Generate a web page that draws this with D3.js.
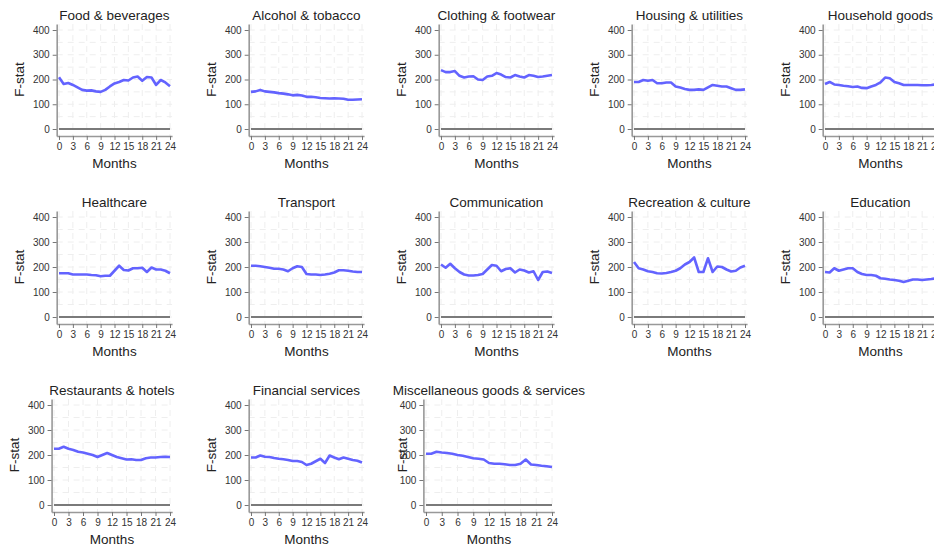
<!DOCTYPE html>
<html>
<head>
<meta charset="utf-8">
<script src="https://cdn.jsdelivr.net/npm/d3@7"></script>
<style>
  body { margin: 0; background: #fff; }
  text { font-family: "Liberation Sans", Arial, sans-serif; }
</style>
</head>
<body>
<div id="chart"></div>
<script>
///// DATA /////
var months = d3.range(0, 25);
var yTicks = [0, 100, 200, 300, 400];
var xTicks = [0, 3, 6, 9, 12, 15, 18, 21, 24];

var categories = [
  "Food & beverages", "Alcohol & tobacco", "Clothing & footwear", "Housing & utilities", "Household goods",
  "Healthcare", "Transport", "Communication", "Recreation & culture", "Education",
  "Restaurants & hotels", "Financial services", "Miscellaneous goods & services"
];

var food = [209, 182, 186, 178, 168, 158, 155, 156, 152, 150, 158, 172, 184, 190, 198, 196, 208, 212, 195, 210, 208, 178, 198, 188, 173];
var alcohol = [150, 152, 158, 152, 150, 148, 145, 143, 140, 136, 138, 135, 130, 130, 128, 125, 124, 123, 124, 123, 122, 118, 118, 119, 120];
var clothing = [238, 230, 230, 234, 215, 208, 212, 213, 200, 198, 212, 215, 226, 220, 210, 208, 218, 212, 208, 218, 215, 210, 212, 215, 218];
var housing = [190, 190, 198, 195, 198, 185, 185, 188, 188, 172, 168, 162, 158, 158, 160, 158, 168, 178, 175, 172, 172, 165, 158, 158, 160];
var household = [182, 190, 180, 178, 175, 173, 170, 172, 166, 165, 172, 178, 188, 208, 205, 190, 185, 178, 178, 178, 178, 177, 177, 178, 180];
var healthcare = [175, 175, 175, 170, 170, 170, 170, 168, 167, 163, 165, 165, 185, 205, 188, 186, 195, 195, 197, 180, 198, 190, 190, 185, 175];
var transport = [205, 205, 203, 200, 197, 193, 193, 190, 183, 195, 203, 200, 172, 170, 170, 168, 170, 173, 178, 187, 187, 185, 182, 180, 180];
var communication = [210, 197, 213, 195, 180, 170, 166, 166, 168, 172, 190, 208, 205, 183, 192, 195, 178, 190, 186, 178, 183, 148, 180, 182, 176];
var recreation = [220, 195, 190, 183, 180, 175, 174, 176, 180, 185, 195, 210, 220, 238, 180, 180, 235, 180, 202, 200, 190, 182, 185, 198, 205];
var education = [180, 178, 195, 185, 190, 195, 195, 180, 172, 168, 168, 165, 155, 153, 150, 148, 145, 140, 145, 150, 150, 148, 150, 152, 155];
var restaurants = [225, 225, 233, 225, 220, 213, 210, 205, 200, 192, 200, 208, 200, 192, 187, 182, 183, 180, 180, 187, 190, 190, 192, 193, 192];
var financial = [190, 190, 198, 193, 192, 188, 185, 183, 180, 176, 176, 172, 160, 165, 175, 185, 168, 198, 190, 183, 190, 185, 180, 177, 170];
var misc = [205, 205, 213, 210, 208, 205, 200, 197, 192, 187, 185, 182, 168, 165, 165, 163, 160, 160, 165, 182, 162, 160, 157, 155, 152];

var series = [food, alcohol, clothing, housing, household,
  healthcare, transport, communication, recreation, education,
  restaurants, financial, misc];

///// LAYOUT /////
var width = 934;
var height = 544;

var colStart = [59, 251, 441, 634, 825];   // x of month 0
var plotW = 111;                           // month 0 -> 24
var rowTop = [30, 217, 405];               // y of 400
var rowZero = [129, 317, 505];             // y of 0

var svg = d3.select("#chart").append("svg")
  .attr("width", width)
  .attr("height", height);

svg.append("rect")
  .attr("width", width)
  .attr("height", height)
  .attr("fill", "#fff");

var blue = "#5252ff";

series.forEach(function (vals, i) {
  var row = Math.floor(i / 5);
  var col = i % 5;
  var x0 = colStart[col];
  var x24 = x0 + plotW;
  var labelOff = 38;

  // odd panels in the last row
  if (i === 10) { x0 = 54; x24 = 170; }
  if (i === 12) { x0 = 426; x24 = 552; labelOff = 21; }

  var k = (x24 - x0) / 24;
  var x = d3.scaleLinear()
    .domain([-0.5, 24.45])
    .range([x0 - 0.5 * k, x24 + 0.45 * k]);

  var ky = (rowZero[row] - rowTop[row]) / 400;
  var y = d3.scaleLinear()
    .domain([-28, 424])
    .range([rowZero[row] + 28 * ky, rowTop[row] - 24 * ky]);

  var g = svg.append("g").attr("class", "panel");
  var axisX = x(-0.5);

  // faint grid
  g.selectAll(".vgrid")
    .data(xTicks)
    .enter().append("line")
    .attr("x1", function (d) { return x(d); })
    .attr("x2", function (d) { return x(d); })
    .attr("y1", y(424))
    .attr("y2", y(-28))
    .attr("stroke", "#eeeeee")
    .attr("stroke-width", 1)
    .attr("stroke-dasharray", "6,5");

  g.selectAll(".hgrid")
    .data(d3.range(0, 401, 50))
    .enter().append("line")
    .attr("x1", x(-0.5))
    .attr("x2", x(24.45))
    .attr("y1", function (d) { return y(d); })
    .attr("y2", function (d) { return y(d); })
    .attr("stroke", "#eeeeee")
    .attr("stroke-width", 1)
    .attr("stroke-dasharray", "6,5");

  // y axis
  var yAxis = g.append("g")
    .attr("transform", "translate(" + axisX + ",0)")
    .call(d3.axisLeft(y).tickValues(yTicks).tickSize(4).tickSizeOuter(0).tickPadding(3));
  yAxis.select(".domain").attr("stroke", "#999").attr("stroke-width", 1.6);
  yAxis.selectAll(".tick line").attr("stroke", "#777");
  yAxis.selectAll(".tick text")
    .attr("fill", "#333")
    .style("font-size", "10px")
    .style("font-family", "'Liberation Sans', Arial, sans-serif");

  // x axis
  var xAxis = g.append("g")
    .attr("transform", "translate(0," + y(-28) + ")")
    .call(d3.axisBottom(x).tickValues(xTicks).tickSize(4).tickSizeOuter(0).tickPadding(3));
  xAxis.select(".domain").attr("stroke", "#999").attr("stroke-width", 1.6);
  xAxis.selectAll(".tick line").attr("stroke", "#777");
  xAxis.selectAll(".tick text")
    .attr("fill", "#333")
    .style("font-size", "10px")
    .style("font-family", "'Liberation Sans', Arial, sans-serif");

  // zero line
  g.append("line")
    .attr("x1", x(0))
    .attr("x2", x(24))
    .attr("y1", y(0))
    .attr("y2", y(0))
    .attr("stroke", "#7a7a7a")
    .attr("stroke-width", 2);

  // series
  var line = d3.line()
    .x(function (d, j) { return x(months[j]); })
    .y(function (d) { return y(d); });

  g.append("path")
    .datum(vals)
    .attr("d", line)
    .attr("fill", "none")
    .attr("stroke", blue)
    .attr("stroke-width", 2.6)
    .attr("stroke-linejoin", "round")
    .attr("opacity", 0.9);

  // title
  g.append("text")
    .attr("x", (axisX + x(24.45)) / 2)
    .attr("y", rowTop[row] - 10)
    .attr("text-anchor", "middle")
    .style("font-size", "13.5px")
    .attr("fill", "#222")
    .text(categories[i]);

  // axis titles
  g.append("text")
    .attr("x", (x(0) + x(24)) / 2)
    .attr("y", rowZero[row] + 39)
    .attr("text-anchor", "middle")
    .style("font-size", "13.5px")
    .attr("fill", "#222")
    .text("Months");

  g.append("text")
    .attr("transform", "translate(" + (axisX - labelOff + 5) + "," + ((rowTop[row] + rowZero[row]) / 2) + ") rotate(-90)")
    .attr("text-anchor", "middle")
    .style("font-size", "13.5px")
    .attr("fill", "#222")
    .text("F-stat");
});
</script>
</body>
</html>
